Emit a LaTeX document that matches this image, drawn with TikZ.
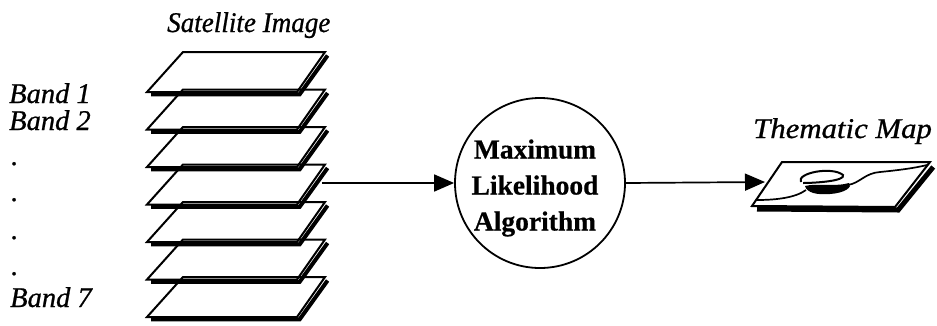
\documentclass[tikz,border=0pt]{standalone}
\usepackage{fontspec}
\setmainfont{Liberation Serif}
\newfontfamily\labelfont[FakeBold=0.8]{Liberation Serif}
\newfontfamily\headfont[FakeBold=0.6]{Liberation Serif}
\usetikzlibrary{arrows.meta,calc}

\begin{document}
\begin{tikzpicture}[x=1pt,y=-1pt,
  labeltext/.style={font=\labelfont\itshape\fontsize{28.5}{30}\selectfont,
    inner sep=0pt, anchor=base west},
  boldtext/.style={font=\headfont\bfseries\fontsize{27.5}{36}\selectfont,
    align=center, inner sep=0pt},
  plateedge/.style={line width=2pt, line join=miter},
  plateshadow/.style={line width=4pt},
  flow/.style={line width=1.7pt, -{Triangle[length=20pt,width=17pt]}},
  ]
\useasboundingbox (0,0) rectangle (937,325);

% stack of band layers (outline only, shadow on bottom and right)
\foreach \i in {1,...,7} {
  \pgfmathsetmacro{\yy}{52+37.5*(\i-1)}
  \coordinate (p\i-tl) at (183,\yy);
  \coordinate (p\i-tr) at (325,\yy);
  \coordinate (p\i-br) at (297,\yy+40);
  \coordinate (p\i-bl) at (147,\yy+40);
  \draw[plateshadow] ($(p\i-tr)+(2.6,3.5)$) -- ($(p\i-br)+(2.6,2.4)$)
    -- ($(p\i-bl)+(4,2.4)$);
  \draw[plateedge] (p\i-tl) -- (p\i-tr) -- (p\i-br) -- (p\i-bl) -- cycle;
}

% labels of the stack
\node[labeltext] (title) at (167,32) {\scalebox{0.95}[1]{Satellite Image}};
\node[labeltext] (band1) at (9,103) {Band 1};
\node[labeltext] (band2) at (9,130) {Band 2};
\node[labeltext] (dot1) at (11,165) {.};
\node[labeltext] (dot2) at (11,201) {.};
\node[labeltext] (dot3) at (11,239) {.};
\node[labeltext] (dot4) at (11,275) {.};
\node[labeltext] (band7) at (10,307) {Band 7};

% classifier
\node[circle, draw, line width=1.8pt, minimum size=170pt, inner sep=0pt]
  (mla) at (540,183) {};
\node[boldtext] (mlatext) at (535,188) {Maximum\\Likelihood\\Algorithm};

% thematic map sheet
\coordinate (m-tl) at (782,162);
\coordinate (m-tr) at (930,162);
\coordinate (m-br) at (895,207);
\coordinate (m-bl) at (752,206);
\draw[line width=5pt] ($(m-tr)+(3.2,5)$) -- ($(m-br)+(3.2,3)$) -- ($(m-bl)+(5,3)$);
\draw[plateedge, fill=white] (m-tl) -- (m-tr) -- (m-br) -- (m-bl) -- cycle;
% map contents
\draw[line width=2pt] (801,182) .. controls (796,173) and (832,166) .. (843,175)
  .. controls (846,181) and (815,183) .. (803,183);
\fill (805,186) .. controls (816,183) and (836,187) .. (849,183)
  .. controls (853,187) and (845,193) .. (830,194)
  .. controls (817,195) and (807,193) .. (805,186) -- cycle;
\draw[line width=1.7pt] (757,200) .. controls (775,200) and (795,198) .. (806,190);
\draw[line width=1.7pt] (848,185) .. controls (860,183) and (865,173) .. (880,172)
  .. controls (900,170) and (915,168) .. (927,165);
\node[labeltext] (maptitle) at (753,138) {\scalebox{1.08}[1]{Thematic Map}};

% connectors
\coordinate (stackout) at (322,183);
\coordinate (mapin) at (765,182);
\draw[flow] (stackout) -- (mla.west);
\draw[flow] (mla.east) -- (mapin);
\end{tikzpicture}
\end{document}
